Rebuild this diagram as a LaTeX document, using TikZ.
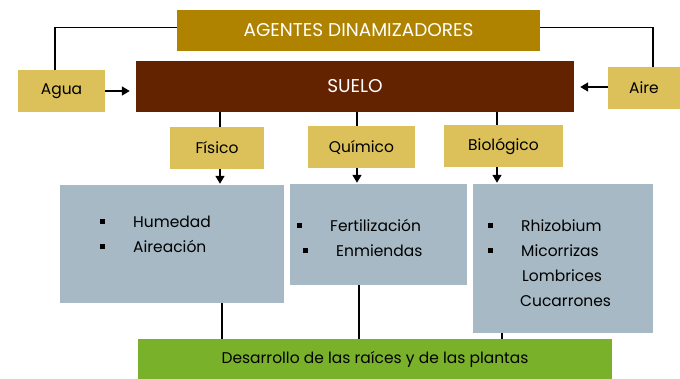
\documentclass[tikz,border=0pt]{standalone}
\usepackage{fontspec}
\setmainfont{Poppins}
\usepackage{tikz}
\usetikzlibrary{arrows.meta, positioning, calc}

\definecolor{agentcol}{HTML}{AF8200}
\definecolor{suelocol}{HTML}{632300}
\definecolor{tipocol}{HTML}{DCC15A}
\definecolor{listcol}{HTML}{A6B9C5}
\definecolor{plantcol}{HTML}{79B12B}

\newcommand{\sqb}{\rule[3.5pt]{5pt}{5pt}}

\begin{document}
\begin{tikzpicture}[
    x=1pt, y=-1pt,
    every node/.style={font=\fontsize{15.5}{25}\selectfont, inner sep=0pt}, % 统一字体
    topbox/.style={fill=agentcol, text=white, font=\fontsize{18.5}{22}\selectfont}, % 顶部框
    soilbox/.style={fill=suelocol, text=white, font=\fontsize{18.5}{22}\selectfont}, % 土壤框
    tipobox/.style={fill=tipocol, text=black}, % 黄色小框
    listbox/.style={fill=listcol}, % 灰色列表框
    plantbox/.style={fill=plantcol, text=black}, % 绿色底框
    conn/.style={black, line width=1.1pt}, % 连接线
    arr/.style={black, line width=1.5pt, -{Triangle[length=8pt, width=9pt]}} % 箭头
]
    \useasboundingbox (0,0) rectangle (680,379);

    % 1. 顶部与土壤
    \node[topbox, minimum width=363, minimum height=41] (agt) at (358.5,30.5) {AGENTES DINAMIZADORES};
    \node[soilbox, minimum width=438, minimum height=51] (suelo) at (355,86.5) {SUELO};
    \node[tipobox, minimum width=87, minimum height=42] (agua) at (61.5,91) {Agua};
    \node[tipobox, minimum width=72, minimum height=42] (aire) at (644,88) {Aire};

    % 2. 三个类型框
    \node[tipobox, minimum width=94, minimum height=42] (fis) at (217,148) {Físico};
    \node[tipobox, minimum width=107, minimum height=42] (qui) at (361.5,147) {Químico};
    \node[tipobox, minimum width=119, minimum height=42] (bio) at (503.5,146) {Biológico};

    % 3. 灰色列表框
    \node[listbox, minimum width=224, minimum height=118] (lfis) at (172,244) {};
    \node[listbox, minimum width=177, minimum height=101] (lqui) at (378.5,234.5) {};
    \node[listbox, minimum width=180, minimum height=149] (lbio) at (563,258.5) {};
    \node[anchor=base west] (tfis) at (100,228) {\begin{tabular}[t]{@{}l@{}}
        \sqb\hspace{28pt}Humedad\\
        \sqb\hspace{28pt}Aireación\end{tabular}};
    \node[anchor=base west] (tqui) at (297,232) {\begin{tabular}[t]{@{}l@{}}
        \sqb\hspace{28pt}Fertilización\\
        \hspace{6pt}\sqb\hspace{28pt}Enmiendas\end{tabular}};
    \node[anchor=base west] (tbio) at (488,232) {\begin{tabular}[t]{@{}l@{}}
        \sqb\hspace{28pt}Rhizobium\\
        \sqb\hspace{28pt}Micorrizas\\
        \hspace{34pt}Lombrices\\
        \hspace{32pt}Cucarrones\end{tabular}};

    % 4. 底部绿色框
    \node[plantbox, minimum width=474, minimum height=40] (plant) at (375,359) {Desarrollo de las raíces y de las plantas};

    % 5. 连接线
    \draw[conn] ([yshift=3pt]agt.west) -| ([xshift=-6.5pt]agua.north);
    \draw[conn] ([yshift=3pt]agt.east) -| ([xshift=9pt]aire.north);
    \draw[arr, shorten >=6pt] (agua.east) -- (agua.east -| suelo.west);
    \draw[arr, shorten >=6pt] ([yshift=1pt]aire.west) -- ([yshift=1pt]aire.west -| suelo.east);

    \foreach \tipo/\lst/\xa/\xb in {fis/lfis/220/222, qui/lqui/357/359, bio/lbio/497/502} {
        \coordinate (ca) at (\xa,0);
        \coordinate (cb) at (\xb,0);
        \draw[conn] (suelo.south -| ca) -- (\tipo.north -| ca);
        \draw[arr] (\tipo.south -| ca) -- ([yshift=1pt]\lst.north -| ca);
        \draw[conn] (\lst.south -| cb) -- (plant.north -| cb);
    }

\end{tikzpicture}
\end{document}
